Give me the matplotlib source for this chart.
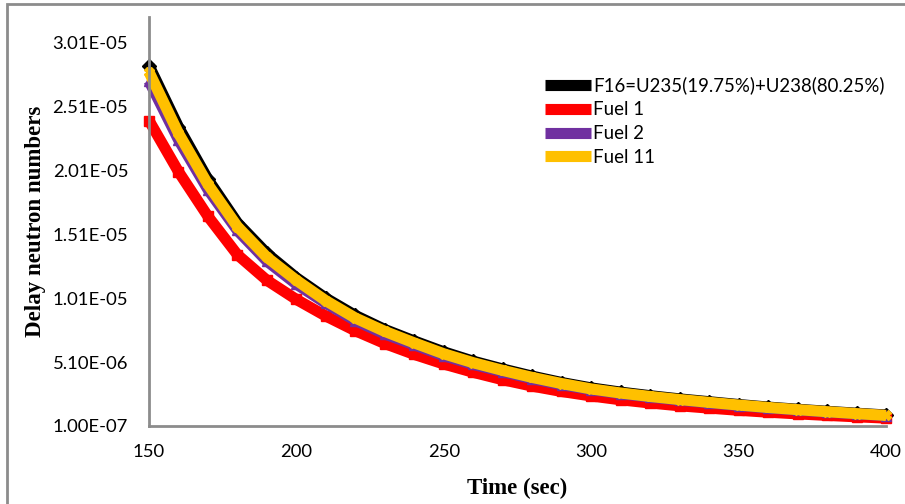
import matplotlib
matplotlib.use('Agg')
import matplotlib.pyplot as plt
from matplotlib.patches import Rectangle
import numpy as np

# time (sec), read every 10 s from the picture
time_sec = [150, 160, 170, 180, 190, 200, 210, 220, 230, 240, 250, 260, 270,
            280, 290, 300, 310, 320, 330, 340, 350, 360, 370, 380, 390, 400]

fuel_f16 = [2.83e-5, 2.35e-5, 1.94e-5, 1.60e-5, 1.36e-5, 1.17e-5, 1.01e-5, 8.75e-6,
            7.65e-6, 6.75e-6, 5.9e-6, 5.17e-6, 4.56e-6, 4.0e-6, 3.5e-6, 3.08e-6,
            2.75e-6, 2.47e-6, 2.22e-6, 2.0e-6, 1.78e-6, 1.58e-6, 1.41e-6, 1.25e-6,
            1.1e-6, 9.6e-7]
fuel_1 = [2.40e-5, 2.00e-5, 1.65e-5, 1.35e-5, 1.15e-5, 1.00e-5, 8.7e-6, 7.55e-6,
          6.55e-6, 5.7e-6, 4.95e-6, 4.3e-6, 3.72e-6, 3.22e-6, 2.8e-6, 2.45e-6,
          2.15e-6, 1.9e-6, 1.68e-6, 1.5e-6, 1.33e-6, 1.18e-6, 1.05e-6, 9.3e-7,
          8.2e-7, 7.2e-7]
fuel_2 = [2.71e-5, 2.25e-5, 1.86e-5, 1.54e-5, 1.30e-5, 1.12e-5, 9.7e-6, 8.35e-6,
          7.3e-6, 6.45e-6, 5.6e-6, 4.92e-6, 4.35e-6, 3.8e-6, 3.33e-6, 2.94e-6,
          2.63e-6, 2.36e-6, 2.12e-6, 1.91e-6, 1.7e-6, 1.51e-6, 1.35e-6, 1.19e-6,
          1.05e-6, 9.1e-7]
fuel_11 = [2.78e-5, 2.30e-5, 1.90e-5, 1.57e-5, 1.33e-5, 1.15e-5, 9.9e-6, 8.55e-6,
           7.5e-6, 6.6e-6, 5.75e-6, 5.05e-6, 4.45e-6, 3.9e-6, 3.42e-6, 3.0e-6,
           2.68e-6, 2.41e-6, 2.17e-6, 1.95e-6, 1.74e-6, 1.55e-6, 1.38e-6, 1.22e-6,
           1.07e-6, 9.3e-7]

labels = ['F16=U235(19.75%)+U238(80.25%)', 'Fuel 1', 'Fuel 2', 'Fuel 11']
colors = ['#000000', '#ff0000', '#7030a0', '#ffc000']
markers = ['D', 's', '^', 'X']

y_ticks = [1.0e-7, 5.1e-6, 1.01e-5, 1.51e-5, 2.01e-5, 2.51e-5, 3.01e-5]
y_tick_labels = ['1.00E-07', '5.10E-06', '1.01E-05', '1.51E-05', '2.01E-05', '2.51E-05', '3.01E-05']
x_ticks = [150, 200, 250, 300, 350, 400]

fig = plt.figure(figsize=(9.05, 5.04), dpi=100)
ax = fig.add_axes([149/905, 1 - 426/504, (886 - 149)/905, (426 - 17)/504])

series = [fuel_f16, fuel_1, fuel_2, fuel_11]
for vals, lab, c, m in zip(series, labels, colors, markers):
    ax.plot(time_sec, vals, color=c, lw=8, marker=m, markersize=7,
            markeredgecolor=c, label=lab, solid_capstyle='butt',
            solid_joinstyle='round', clip_on=False)

ax.set_xlim(150, 400)
ax.set_ylim(1.0e-7, 3.21e-5)
ax.set_xticks(x_ticks)
ax.set_xticklabels([str(v) for v in x_ticks], fontsize=13.3, family='Lato')
ax.set_yticks(y_ticks)
ax.set_yticklabels(y_tick_labels, fontsize=13.3, family='Lato')
ax.tick_params(axis='y', length=0, pad=15)
ax.tick_params(axis='x', length=0, pad=13)

for s in ['top', 'right']:
    ax.spines[s].set_visible(False)
for s in ['left', 'bottom']:
    ax.spines[s].set_color('#8c8c8c')
    ax.spines[s].set_linewidth(2)

ax.set_xlabel('Time (sec)', fontsize=16.5, fontweight='bold', family='Liberation Serif', labelpad=13)
ax.set_ylabel('Delay neutron numbers', fontsize=16.5, fontweight='bold', family='Liberation Serif', labelpad=4.5)

leg = ax.legend(loc='upper left', bbox_to_anchor=(0.527, 0.873), frameon=False,
                prop={'family': 'Lato', 'size': 13.4}, handlelength=2.5,
                handletextpad=0.1, labelspacing=0.37, borderaxespad=0,
                markerscale=0.8)

# outer frame of the original picture
fig.patches.append(Rectangle((7/905, -0.1), 1.2, 1 - 4/504 + 0.1, transform=fig.transFigure,
                             fill=False, edgecolor='#8c8c8c', lw=2))

plt.savefig('out.png', dpi=100)
